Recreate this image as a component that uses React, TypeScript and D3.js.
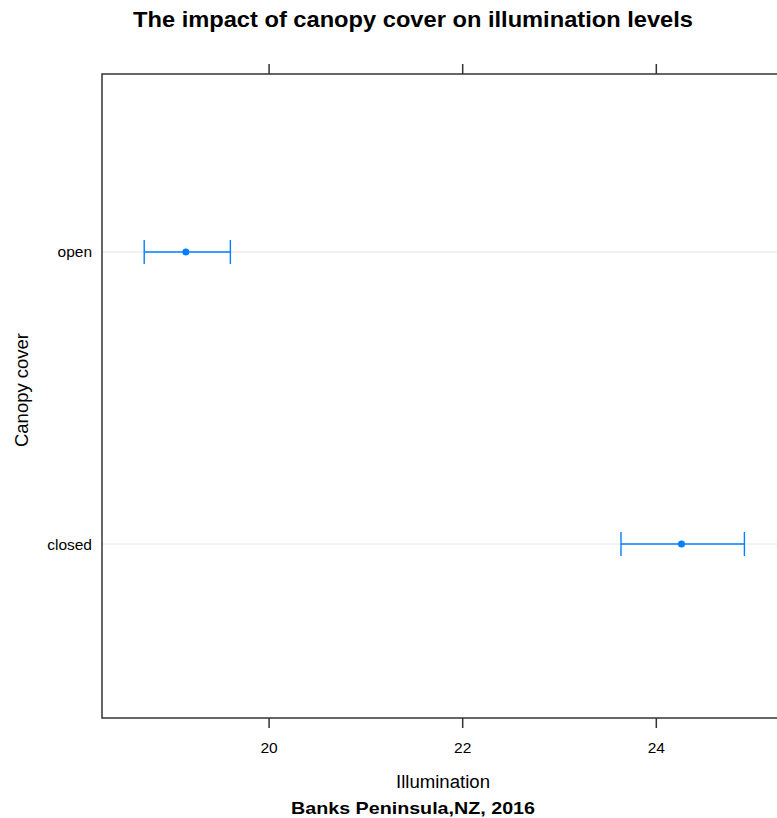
import React from "react";
import * as d3 from "d3";

// Canopy cover groups with mean illumination and 95% interval
const categories = ["closed", "open"];
const means = [24.26, 19.14];
const lowers = [23.635, 18.71];
const uppers = [24.91, 19.6];
const xTicks = [20, 22, 24];

const W = 777;
const H = 818;
const panel = { left: 102, top: 74, right: 787, bottom: 718 };
const font = "'Liberation Sans', Arial, sans-serif";
const blue = "#0080ff";

export default function App() {
  const x = d3.scaleLinear().domain([18.274, 25.35]).range([panel.left, panel.right]);
  const y = d3.scaleLinear().domain([0.4043, 2.6093]).range([panel.bottom, panel.top]);
  const yOf = (i: number) => y(i + 1);

  return (
    <svg
      width={W}
      height={H}
      style={{ position: "absolute", left: 0, top: 0, background: "#fff" }}
      fontFamily={font}
    >
      <text
        x={413}
        y={27}
        textAnchor="middle"
        fontSize={22}
        fontWeight="bold"
        fill="#000"
        textLength={560}
        lengthAdjust="spacingAndGlyphs"
      >
        The impact of canopy cover on illumination levels
      </text>

      {/* horizontal reference lines */}
      {categories.map((c, i) => (
        <line key={"g" + c} x1={panel.left} x2={panel.right} y1={yOf(i)} y2={yOf(i)} stroke="#e6e6e6" strokeWidth={1} />
      ))}

      {/* interval bars */}
      {categories.map((c, i) => {
        const cy = yOf(i);
        return (
          <g key={"e" + c} stroke={blue} strokeWidth={1.4} fill="none">
            <line x1={x(lowers[i])} x2={x(uppers[i])} y1={cy} y2={cy} />
            <line x1={x(lowers[i])} x2={x(lowers[i])} y1={cy - 12} y2={cy + 12} />
            <line x1={x(uppers[i])} x2={x(uppers[i])} y1={cy - 12} y2={cy + 12} />
            <circle cx={x(means[i])} cy={cy} r={3.5} fill={blue} stroke="none" />
          </g>
        );
      })}

      {/* panel border */}
      <rect
        x={panel.left}
        y={panel.top}
        width={panel.right - panel.left}
        height={panel.bottom - panel.top}
        fill="none"
        stroke="#333"
        strokeWidth={1.5}
      />

      {/* x ticks, top and bottom */}
      {xTicks.map((t) => (
        <g key={"t" + t} stroke="#333" strokeWidth={1.5}>
          <line x1={x(t)} x2={x(t)} y1={panel.top} y2={panel.top - 10} />
          <line x1={x(t)} x2={x(t)} y1={panel.bottom} y2={panel.bottom + 10} />
        </g>
      ))}
      {xTicks.map((t) => (
        <text key={"l" + t} x={x(t)} y={753} textAnchor="middle" fontSize={15.5} fill="#000">
          {t}
        </text>
      ))}

      {/* category labels */}
      {categories.map((c, i) => (
        <text key={"c" + c} x={92} y={yOf(i) + 5.5} textAnchor="end" fontSize={15.5} fill="#000">
          {c}
        </text>
      ))}

      <text
        x={443}
        y={788}
        textAnchor="middle"
        fontSize={18}
        fill="#000"
        textLength={94}
        lengthAdjust="spacingAndGlyphs"
      >
        Illumination
      </text>
      <text
        x={413}
        y={814}
        textAnchor="middle"
        fontSize={17}
        fontWeight="bold"
        fill="#000"
        textLength={244}
        lengthAdjust="spacingAndGlyphs"
      >
        Banks Peninsula,NZ, 2016
      </text>
      <text
        transform={`translate(28, 390) rotate(-90)`}
        textAnchor="middle"
        fontSize={18}
        fill="#000"
        textLength={114}
        lengthAdjust="spacingAndGlyphs"
      >
        Canopy cover
      </text>
    </svg>
  );
}
